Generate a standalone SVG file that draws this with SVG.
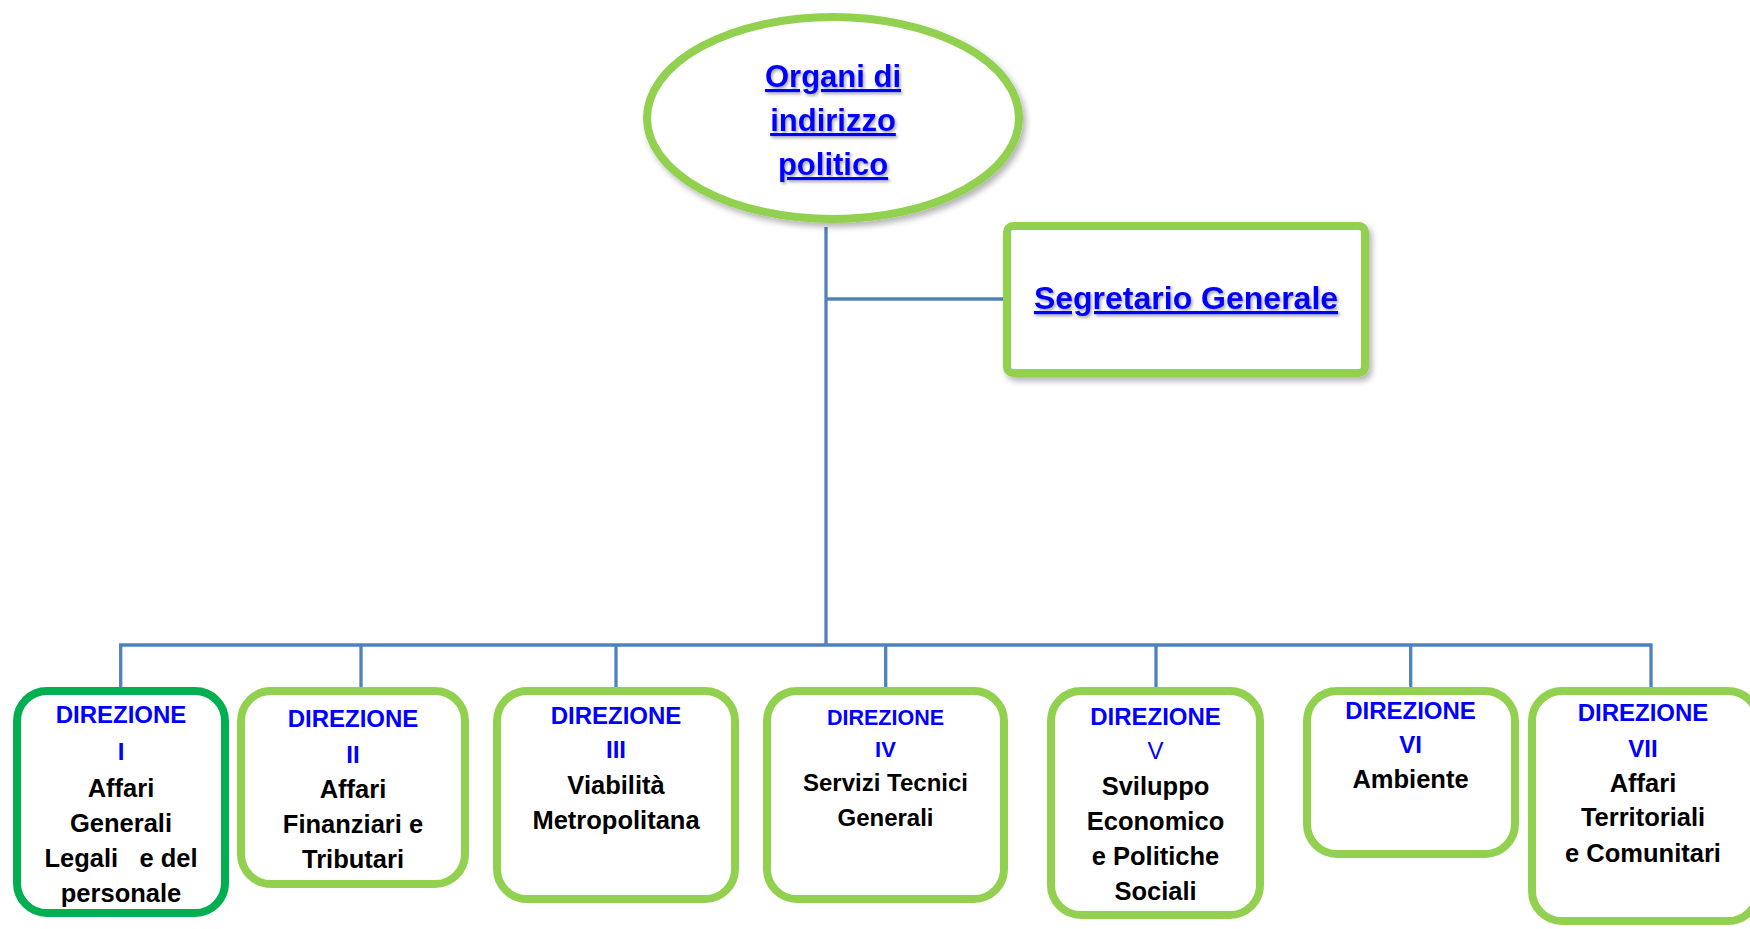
<svg xmlns="http://www.w3.org/2000/svg" width="1750" height="929" viewBox="0 0 1750 929">
<style>
.bg{fill:#ffffff}
.conn{stroke:#4F81BD;stroke-width:3.3;fill:none}
.lg{fill:#ffffff;stroke:#92D050;stroke-width:8}
.dg{fill:#ffffff;stroke:#00B050;stroke-width:8}
.t{font-family:"Liberation Sans",Arial,sans-serif;font-weight:bold;text-anchor:middle}
.ttl{fill:#0000FF;text-decoration:underline;filter:url(#tsh)}
.dir{fill:#0000FF;font-size:24px}
.blk{fill:#000000;font-size:25.5px}
</style>
<defs>
<filter id="sh" x="-10%" y="-10%" width="130%" height="130%">
<feDropShadow dx="3" dy="4" stdDeviation="3" flood-color="#000" flood-opacity="0.3"/>
</filter>
<filter id="tsh" x="-10%" y="-20%" width="130%" height="160%">
<feDropShadow dx="1.5" dy="2" stdDeviation="1.5" flood-color="#000" flood-opacity="0.35"/>
</filter>
</defs>
<rect class="bg" x="0" y="0" width="1750" height="929"/>
<g id="connectors">
<line class="conn" x1="826" y1="227" x2="826" y2="645"/>
<line class="conn" x1="826" y1="299" x2="1004" y2="299"/>
<polyline class="conn" points="120.7,689 120.7,645 1651,645 1651,689"/>
<line class="conn" x1="361" y1="645" x2="361" y2="689"/>
<line class="conn" x1="616" y1="645" x2="616" y2="689"/>
<line class="conn" x1="885.7" y1="645" x2="885.7" y2="689"/>
<line class="conn" x1="1156" y1="645" x2="1156" y2="689"/>
<line class="conn" x1="1410.7" y1="645" x2="1410.7" y2="689"/>
</g>
<g id="organi">
<ellipse class="lg" cx="833" cy="118" rx="186" ry="101" filter="url(#sh)"/>
<text class="t ttl" x="833" y="87" font-size="31">Organi di</text>
<text class="t ttl" x="833" y="131" font-size="31">indirizzo</text>
<text class="t ttl" x="833" y="175" font-size="31">politico</text>
</g>
<g id="segretario">
<rect class="lg" x="1007" y="226" width="358" height="147" rx="6" filter="url(#sh)"/>
<text class="t ttl" x="1186" y="309" font-size="32">Segretario Generale</text>
</g>
<g id="dir1">
<rect class="dg" x="17" y="691" width="208" height="222" rx="30"/>
<text class="t dir" x="121" y="723">DIREZIONE</text>
<text class="t dir" x="121" y="760">I</text>
<text class="t blk" x="121" y="797">Affari</text>
<text class="t blk" x="121" y="832">Generali</text>
<text class="t blk" x="121" y="867" xml:space="preserve" style="white-space:pre">Legali   e del</text>
<text class="t blk" x="121" y="902">personale</text>
</g>
<g id="dir2">
<rect class="lg" x="241" y="691" width="224" height="193" rx="30"/>
<text class="t dir" x="353" y="727">DIREZIONE</text>
<text class="t dir" x="353" y="763">II</text>
<text class="t blk" x="353" y="798">Affari</text>
<text class="t blk" x="353" y="833">Finanziari e</text>
<text class="t blk" x="353" y="868">Tributari</text>
</g>
<g id="dir3">
<rect class="lg" x="497" y="691" width="238" height="208" rx="30"/>
<text class="t dir" x="616" y="724">DIREZIONE</text>
<text class="t dir" x="616" y="758">III</text>
<text class="t blk" x="616" y="794">Viabilità</text>
<text class="t blk" x="616" y="829">Metropolitana</text>
</g>
<g id="dir4">
<rect class="lg" x="767" y="691" width="237" height="208" rx="30"/>
<text class="t dir" x="885.5" y="725" style="font-size:21.5px">DIREZIONE</text>
<text class="t dir" x="885.5" y="757" style="font-size:22px">IV</text>
<text class="t blk" x="885.5" y="791" style="font-size:24px">Servizi Tecnici</text>
<text class="t blk" x="885.5" y="826" style="font-size:24px">Generali</text>
</g>
<g id="dir5">
<rect class="lg" x="1051" y="691" width="209" height="224" rx="30"/>
<text class="t dir" x="1155.5" y="725">DIREZIONE</text>
<text class="t dir" x="1155.5" y="759" style="font-weight:normal">V</text>
<text class="t blk" x="1155.5" y="795">Sviluppo</text>
<text class="t blk" x="1155.5" y="830">Economico</text>
<text class="t blk" x="1155.5" y="865">e Politiche</text>
<text class="t blk" x="1155.5" y="900">Sociali</text>
</g>
<g id="dir6">
<rect class="lg" x="1307" y="691" width="208" height="163" rx="30"/>
<text class="t dir" x="1410.5" y="719">DIREZIONE</text>
<text class="t dir" x="1410.5" y="753">VI</text>
<text class="t blk" x="1410.5" y="788">Ambiente</text>
</g>
<g id="dir7">
<rect class="lg" x="1532" y="691" width="226" height="230" rx="30"/>
<text class="t dir" x="1643" y="721">DIREZIONE</text>
<text class="t dir" x="1643" y="757">VII</text>
<text class="t blk" x="1643" y="792">Affari</text>
<text class="t blk" x="1643" y="826">Territoriali</text>
<text class="t blk" x="1643" y="862">e Comunitari</text>
</g>
</svg>
